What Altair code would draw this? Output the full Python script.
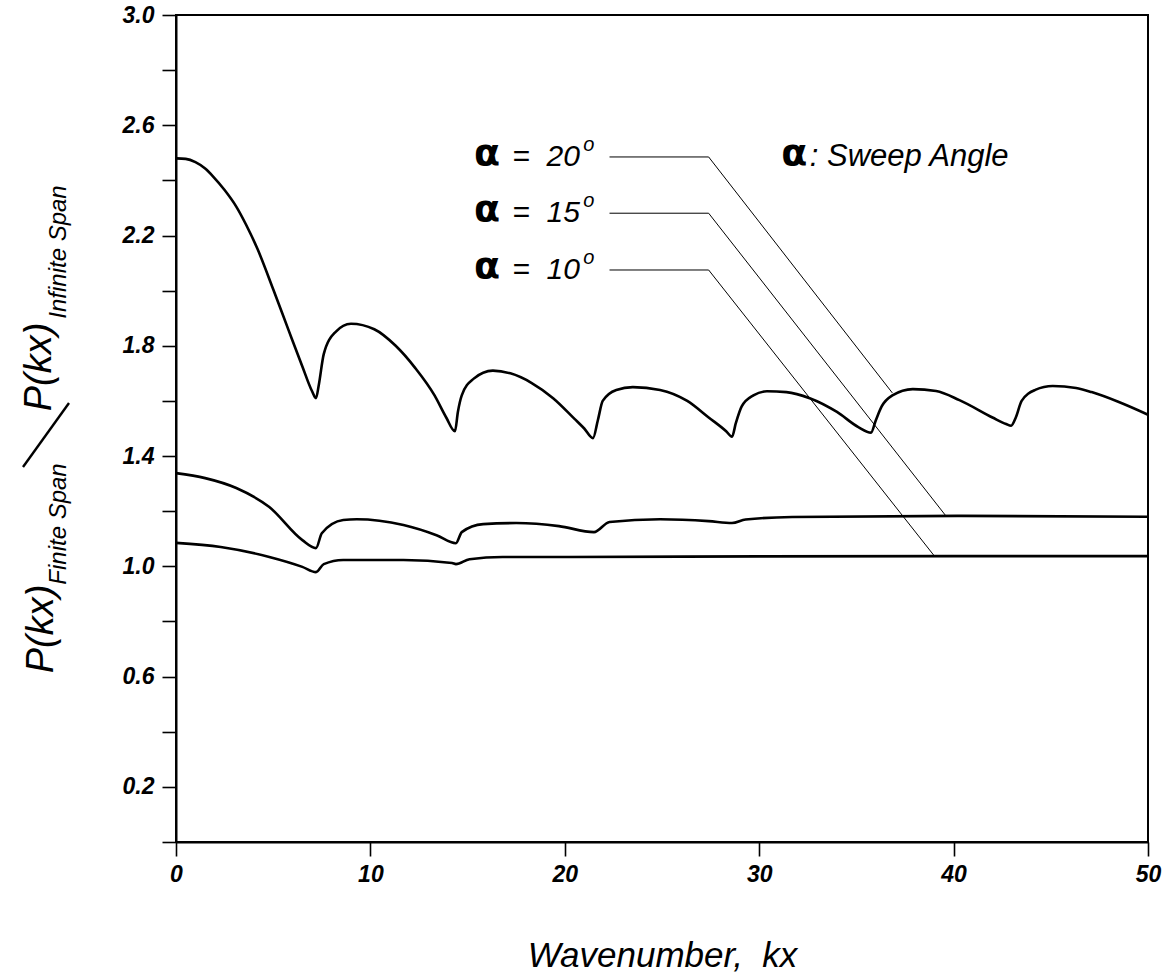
import altair as alt
import pandas as pd

# ---- data ----
# alpha = 20 deg
x20 = [0.0, 0.5, 1.0, 1.5, 1.9, 2.5, 3.1, 3.6, 4.2, 5.0, 5.8, 6.5, 7.0, 7.2, 7.35, 7.6, 8.2, 9.0, 10.2, 11.3, 12.3, 13.3, 13.9, 14.35,
       14.5, 14.7, 15.3, 16.3, 17.2, 18.3, 19.4, 20.5, 21.0, 21.45,
       21.7, 21.95, 22.65, 23.5, 24.9, 26.3, 27.4, 28.3, 28.6,
       28.8, 29.1, 29.7, 30.4, 31.4, 32.6, 34.0, 35.1, 35.75,
       36.0, 36.3, 36.85, 37.9, 39.1, 40.3, 42.0, 42.7, 42.96,
       43.2, 43.5, 44.2, 45.1, 46.3, 47.1, 48.5, 50.0]
y20 = [2.48, 2.478, 2.466, 2.443, 2.415, 2.365, 2.305, 2.24, 2.15, 2.005, 1.855, 1.725, 1.635, 1.61, 1.66, 1.77, 1.85, 1.88, 1.86, 1.80, 1.72, 1.62, 1.54, 1.49,
       1.56, 1.62, 1.68, 1.71, 1.70, 1.665, 1.61, 1.535, 1.50, 1.465,
       1.53, 1.60, 1.64, 1.65, 1.64, 1.60, 1.54, 1.49, 1.47,
       1.52, 1.58, 1.62, 1.635, 1.632, 1.61, 1.56, 1.505, 1.485,
       1.53, 1.58, 1.62, 1.643, 1.636, 1.603, 1.54, 1.516, 1.51,
       1.54, 1.60, 1.64, 1.654, 1.647, 1.632, 1.596, 1.55]

# alpha = 15 deg
x15 = [0.0, 1.5, 3.1, 4.8, 6.5, 7.2, 7.5, 8.6, 9.3, 11.7, 13.4, 14.4, 14.7, 15.8, 17.5, 19.7, 21.5,
       22.3, 24.9, 27.4, 28.6, 29.3, 31.7, 40.3, 50.0]
y15 = [1.338, 1.32, 1.284, 1.215, 1.095, 1.066, 1.12, 1.168, 1.171, 1.15, 1.113, 1.084, 1.124, 1.153, 1.157, 1.146, 1.124,
       1.161, 1.171, 1.164, 1.157, 1.17, 1.179, 1.183, 1.18]

# alpha = 10 deg
x10 = [0.0, 2.3, 4.8, 6.5, 7.2, 7.6, 8.6, 11.7, 14.2, 14.4, 15.1, 16.8, 20.2, 30.0, 40.0, 50.0]
y10 = [1.085, 1.07, 1.034, 0.998, 0.979, 1.008, 1.023, 1.023, 1.012, 1.008, 1.026, 1.034, 1.034, 1.036, 1.037, 1.037]

series_names = ["20", "15", "10"]

# leader lines: label end -> elbow -> curve
lead_x = [[22.3, 27.4, 36.85], [22.3, 27.4, 39.57], [22.3, 27.4, 39.05]]
lead_y = [[2.485, 2.485, 1.629], [2.281, 2.281, 1.186], [2.075, 2.075, 1.034]]
label_num = ["20", "15", "10"]

x_ticks = [0, 10, 20, 30, 40, 50]
y_ticks = [round(0.2 * i, 1) for i in range(16)]
y_labels = ["3.0", "2.6", "2.2", "1.8", "1.4", "1.0", "0.6", "0.2"]

FONT = "Liberation Sans"
NB = "\u00a0"

rows = []
for name, xs, ys in zip(series_names, [x20, x15, x10], [y20, y15, y10]):
    for i, (a, b) in enumerate(zip(xs, ys)):
        rows.append({"s": name, "i": i, "x": a, "y": b})
curves_df = pd.DataFrame(rows)

lrows = []
for name, xs, ys in zip(series_names, lead_x, lead_y):
    for i, (a, b) in enumerate(zip(xs, ys)):
        lrows.append({"s": name, "i": i, "x": a, "y": b})
lead_df = pd.DataFrame(lrows)

xscale = alt.Scale(domain=[0, 50], nice=False, zero=False)
yscale = alt.Scale(domain=[0, 3.0], nice=False, zero=False)

label_expr = "indexof(" + str(y_labels) + ", format(datum.value, '.1f')) >= 0 ? format(datum.value, '.1f') : ''"

curves = alt.Chart(curves_df).mark_line(color="black", strokeWidth=2.6, interpolate="monotone").encode(
    x=alt.X("x:Q", scale=xscale,
            axis=alt.Axis(values=x_ticks, title="Wavenumber," + NB + NB + "kx", format="d", grid=False,
                          domainColor="black", domainWidth=2, tickColor="black", tickWidth=1.6, tickSize=14,
                          labelFont=FONT, labelFontStyle="italic", labelFontWeight="bold", labelFontSize=23,
                          labelColor="black", labelPadding=7, labelFlush=False,
                          titleFont=FONT, titleFontStyle="italic", titleFontWeight="normal", titleFontSize=35,
                          titleColor="black", titlePadding=52)),
    y=alt.Y("y:Q", scale=yscale,
            axis=alt.Axis(values=y_ticks, labelExpr=label_expr, title=None, grid=False,
                          domainColor="black", domainWidth=2, tickColor="black", tickWidth=1.6, tickSize=14,
                          labelFont=FONT, labelFontStyle="italic", labelFontWeight="bold", labelFontSize=23,
                          labelColor="black", labelPadding=8, labelFlush=False)),
    detail="s:N",
    order="i:Q",
)

leaders = alt.Chart(lead_df).mark_line(color="black", strokeWidth=1).encode(
    x=alt.X("x:Q", scale=xscale), y=alt.Y("y:Q", scale=yscale), detail="s:N", order="i:Q")

ann_df = pd.DataFrame({
    "ax": [16.0] * 3,
    "ex": [17.3] * 3,
    "ox": [20.95] * 3,
    "y": [2.485, 2.281, 2.075],
    "oy": [2.53, 2.326, 2.12],
    "num": ["=" + NB + NB + n for n in label_num],
})

alpha_marks = alt.Chart(ann_df).mark_text(font="DejaVu Sans", fontWeight="bold", fontSize=38,
                                          color="black", align="center", baseline="middle", dy=-3).encode(
    x=alt.X("ax:Q", scale=xscale), y=alt.Y("y:Q", scale=yscale), text=alt.value("α"))
num_marks = alt.Chart(ann_df).mark_text(font=FONT, fontStyle="italic", fontSize=30,
                                        color="black", align="left", baseline="middle").encode(
    x=alt.X("ex:Q", scale=xscale), y=alt.Y("y:Q", scale=yscale), text="num:N")
deg_marks = alt.Chart(ann_df).mark_text(font=FONT, fontStyle="italic", fontSize=20,
                                        color="black", align="left", baseline="middle").encode(
    x=alt.X("ox:Q", scale=xscale), y=alt.Y("oy:Q", scale=yscale), text=alt.value("o"))

sweep_df = pd.DataFrame({"x": [31.8], "x2": [32.6], "y": [2.485]})
sweep_alpha = alt.Chart(sweep_df).mark_text(font="DejaVu Sans", fontWeight="bold", fontSize=38, color="black",
                                            align="center", baseline="middle", dy=-3).encode(
    x=alt.X("x:Q", scale=xscale), y=alt.Y("y:Q", scale=yscale), text=alt.value("α"))
sweep_text = alt.Chart(sweep_df).mark_text(font=FONT, fontStyle="italic", fontSize=31, color="black",
                                           align="left", baseline="middle").encode(
    x=alt.X("x2:Q", scale=xscale), y=alt.Y("y:Q", scale=yscale), text=alt.value(":" + NB + "Sweep Angle"))

# composite y-axis title (pixel positions relative to the plot area)
one = pd.DataFrame({"k": [0]})
def ytext(txt, px, py, size):
    return alt.Chart(one).mark_text(font=FONT, fontStyle="italic", fontSize=size, color="black",
                                    angle=270, align="center", baseline="middle").encode(
        x=alt.value(px), y=alt.value(py), text=alt.value(txt))

ytitle = [
    ytext("P(kx)", -134, 614, 38),
    ytext("Finite Span", -117, 509, 24),
    ytext("P(kx)", -136, 352, 38),
    ytext("Infinite Span", -117, 237, 24),
]
slash = alt.Chart(one).mark_rule(color="black", strokeWidth=2.4).encode(
    x=alt.value(-153), y=alt.value(452), x2=alt.value(-107), y2=alt.value(388))

chart = alt.layer(curves, leaders, alpha_marks, num_marks, deg_marks, sweep_alpha, sweep_text, slash, *ytitle).properties(
    width=972, height=827,
    padding={"left": 176, "top": 15, "right": 24, "bottom": 137},
    autosize=alt.AutoSizeParams(type="none"),
    background="white",
).configure_view(stroke="black", strokeWidth=2)

chart.save("out.html", embed_options={"renderer": "svg", "actions": False})
